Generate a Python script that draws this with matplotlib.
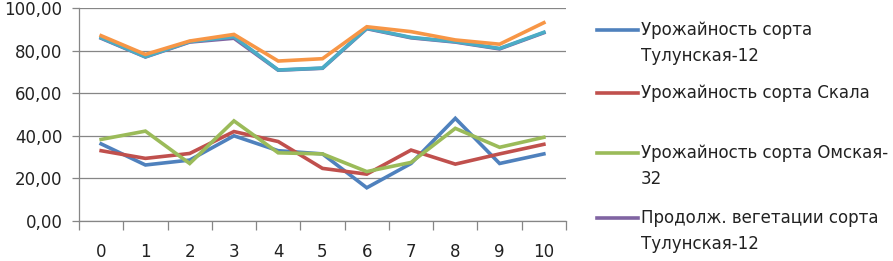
import matplotlib.pyplot as plt
import numpy as np
from matplotlib.lines import Line2D

plt.rcParams['font.family'] = ['DejaVu Sans']

# данные
years = np.arange(0, 11)
yield_tulun = [36.2, 26.3, 28.6, 40.0, 33.0, 31.5, 15.6, 27.0, 48.2, 27.0, 31.5]
yield_skala = [33.0, 29.4, 31.7, 42.0, 37.3, 24.7, 22.0, 33.3, 26.7, 31.5, 36.0]
yield_omsk = [38.3, 42.2, 27.0, 47.0, 32.0, 31.5, 23.2, 27.5, 43.5, 34.6, 39.3]
veg_tulun = [85.8, 77.0, 84.0, 85.8, 70.8, 71.7, 90.3, 86.0, 84.0, 80.8, 88.4]
veg_skala = [86.0, 77.1, 84.2, 86.5, 70.9, 71.8, 90.5, 86.2, 84.2, 81.0, 88.6]
veg_omsk = [87.0, 78.2, 84.5, 87.6, 75.1, 76.2, 91.2, 88.9, 85.0, 83.0, 93.1]

series = [yield_tulun, yield_skala, yield_omsk, veg_tulun, veg_skala, veg_omsk]
colors = ['#4F81BD', '#C0504D', '#9BBB59', '#8064A2', '#4BACC6', '#F79646']
labels = ['Урожайность сорта\nТулунская-12',
          'Урожайность сорта Скала',
          'Урожайность сорта Омская-\n32',
          'Продолж. вегетации сорта\nТулунская-12']

W, H = 893, 261
fig = plt.figure(figsize=(W / 100, H / 100), dpi=100)
ax = fig.add_axes([79 / W, 40 / H, (566 - 79) / W, 213 / H])

for vals, c in zip(series, colors):
    ax.plot(years, vals, color=c, lw=2.6, solid_joinstyle='miter')

gray = '#868686'
ax.set_xlim(-0.5, 10.5)
ax.set_ylim(0, 100)
ax.set_yticks(np.arange(0, 101, 20))
ax.set_yticklabels([f'{v:.2f}'.replace('.', ',') for v in np.arange(0, 101, 20)])
ax.yaxis.grid(True, color=gray, lw=0.9)
ax.set_axisbelow(True)

ax.set_xticks(np.arange(-0.5, 11, 1))
ax.set_xticklabels([])
ax.set_xticks(years, minor=True)
ax.set_xticklabels([str(v) for v in years], minor=True)
ax.tick_params(axis='x', which='major', length=6.5, color=gray, width=0.9)
ax.tick_params(axis='x', which='minor', length=0, pad=16, labelsize=12, labelcolor='#222222')
ax.tick_params(axis='y', length=5, color=gray, width=0.9, pad=7, labelsize=12, labelcolor='#222222')

for s in ['top', 'right']:
    ax.spines[s].set_visible(False)
for s in ['left', 'bottom']:
    ax.spines[s].set_color(gray)
    ax.spines[s].set_linewidth(0.9)

# легенда (только первые четыре ряда, как в оригинале)
leg_y = [30, 93, 153, 218]
for lab, c, y in zip(labels, colors, leg_y):
    fig.add_artist(Line2D([597 / W, 638 / W], [1 - y / H, 1 - y / H],
                          color=c, lw=2.6, transform=fig.transFigure))
    for i, line in enumerate(lab.split('\n')):
        fig.text(641 / W, 1 - (y + i * 26) / H, line, fontsize=12,
                 color='#222222', va='center', ha='left')

plt.savefig('out.png', dpi=100)
